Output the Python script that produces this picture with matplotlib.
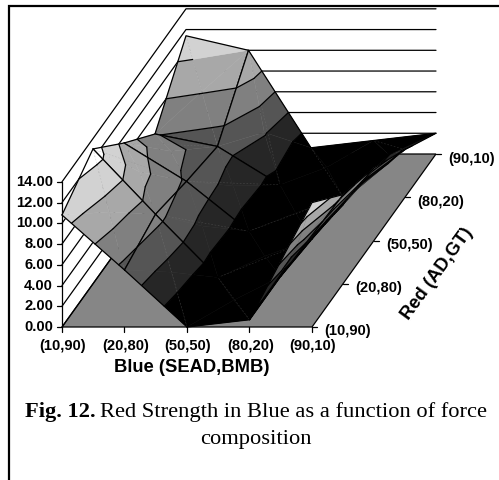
import numpy as np
import matplotlib
matplotlib.use("Agg")
import matplotlib.pyplot as plt
from matplotlib.patches import Polygon

blue_labels = ["(10,90)", "(20,80)", "(50,50)", "(80,20)", "(90,10)"]
red_labels = ["(10,90)", "(20,80)", "(50,50)", "(80,20)", "(90,10)"]
z_ticks = [0, 2, 4, 6, 8, 10, 12, 14]

# rows = red (front to back), columns = blue (left to right)
strength = np.array([
    [10.8, 5.5, 0.0, 0.7, 12.0],
    [13.0, 6.7, 0.6, 0.7, 8.6],
    [9.4, 5.7, 0.9, 0.1, 7.0],
    [6.1, 4.9, 1.2, 0.1, 4.6],
    [11.4, 10.0, 0.6, 1.3, 2.0],
])

band_levels = [0, 2, 4, 6, 8, 10, 12, 14]
band_colors = ["#000000", "#262626", "#555555", "#808080", "#a8a8a8", "#d2d2d2", "#ffffff"]

# oblique projection, in pixels of the picture
X0, Y0 = 62.0, 327.0
DX, SX = 62.5, 31.0
DY, ZS = 43.25, 10.37


def proj(p):
    i, j, z = p
    return (X0 + DX * i + SX * j, Y0 - DY * j - ZS * z)


def clip(poly, level, keep_above):
    out = []
    for a, b in zip(poly, poly[1:] + poly[:1]):
        a_in = a[2] >= level if keep_above else a[2] <= level
        b_in = b[2] >= level if keep_above else b[2] <= level
        if a_in:
            out.append(a)
        if a_in != b_in:
            t = (level - a[2]) / (b[2] - a[2])
            out.append(tuple(np.array(a) + t * (np.array(b) - np.array(a))))
    return out


def contour_seg(tri, level):
    pts = []
    for a, b in zip(tri, tri[1:] + tri[:1]):
        if (a[2] - level) * (b[2] - level) < 0:
            t = (level - a[2]) / (b[2] - a[2])
            pts.append(tuple(np.array(a) + t * (np.array(b) - np.array(a))))
    return pts


fig = plt.figure(figsize=(4.99, 4.80), dpi=100)
ax = fig.add_axes([0, 0, 1, 1])
ax.set_xlim(0, 499)
ax.set_ylim(480, 0)
ax.axis("off")

# frame of the page
ax.plot([9, 9, 499], [480, 5.5, 5.5], color="black", lw=1.6, solid_joinstyle="miter")

n_red, n_blue = strength.shape
back_j = n_red - 1
last_i = n_blue - 1
line = dict(color="black", lw=0.9, solid_capstyle="round")

# walls
for z in z_ticks:
    xs = [proj((0, 0, z))[0], proj((0, back_j, z))[0], proj((last_i, back_j, z))[0]]
    ys = [proj((0, 0, z))[1], proj((0, back_j, z))[1], proj((last_i, back_j, z))[1]]
    if z == 0:
        ax.plot(xs[:2], ys[:2], **line)
    else:
        ax.plot(xs, ys, **line)
ax.plot([X0, X0], [proj((0, 0, 0))[1], proj((0, 0, 14))[1]], **line)

# floor
corners = [(0, 0, 0), (last_i, 0, 0), (last_i, back_j, 0), (0, back_j, 0)]
ax.add_patch(Polygon([proj(c) for c in corners], closed=True, fc="#868686", ec="black", lw=0.9))

# axes ticks and labels
for i, lab in enumerate(blue_labels):
    x, y = proj((i, 0, 0))
    ax.plot([x, x], [y, y + 5], **line)
    ax.text(x + 1, y + 19, lab, ha="center", va="center", fontsize=10.6,
            family="Liberation Sans", weight="bold")
for z in z_ticks:
    x, y = proj((0, 0, z))
    ax.plot([x - 5, x], [y, y], **line)
    ax.text(x - 9, y, "%.2f" % z, ha="right", va="center", fontsize=10.6,
            family="Liberation Sans", weight="bold")
for j, lab in enumerate(red_labels):
    x, y = proj((last_i, j, 0))
    ax.plot([x, x + 5], [y, y], **line)
    ax.text(x + 12, y + 4.5, lab, ha="left", va="center", fontsize=10.6,
            family="Liberation Sans", weight="bold")

ax.text(191.5, 367.5, "Blue (SEAD,BMB)", ha="center", va="center", fontsize=13.2,
        family="Liberation Sans", weight="bold")
ax.text(437, 274, "Red (AD,GT)", ha="center", va="center", rotation=54, fontsize=13.2,
        family="Liberation Sans", weight="bold", rotation_mode="anchor")

# surface, cell by cell from left to right and back to front
zo = 10
for i in range(n_blue - 1):
    for j in range(n_red - 2, -1, -1):
        c = [(i, j, strength[j, i]), (i + 1, j, strength[j, i + 1]),
             (i + 1, j + 1, strength[j + 1, i + 1]), (i, j + 1, strength[j + 1, i])]
        mid = (i + 0.5, j + 0.5, float(np.mean([q[2] for q in c])))
        tris = [[c[k], c[(k + 1) % 4], mid] for k in range(4)]
        zo += 1
        for tri in tris:
            for b, col in enumerate(band_colors):
                part = clip(clip(tri, band_levels[b], True), band_levels[b + 1], False)
                if len(part) > 2:
                    ax.add_patch(Polygon([proj(p) for p in part], closed=True, fc=col, ec=col,
                                         lw=0.3, zorder=zo))
        # faint diagonal of the cell
        diag = (c[0], c[2]) if j in (1, 2) else (c[1], c[3])
        pd = [proj(p) for p in diag]
        ax.plot([pd[0][0], pd[1][0]], [pd[0][1], pd[1][1]], color="#8c8c8c", lw=0.4,
                ls=(0, (3, 3)), alpha=0.35, zorder=zo)
        for tri in tris:
            for lev in band_levels[1:-1]:
                seg = contour_seg(tri, lev)
                if len(seg) == 2:
                    ps = [proj(p) for p in seg]
                    ax.plot([ps[0][0], ps[1][0]], [ps[0][1], ps[1][1]], zorder=zo, **line)
        ps = [proj(p) for p in c + c[:1]]
        ax.plot([p[0] for p in ps], [p[1] for p in ps], zorder=zo, solid_joinstyle="round", **line)

ax.text(25, 416.5, "Fig. 12.", ha="left", va="baseline", fontsize=16.2,
        family="Liberation Serif", weight="bold")
ax.text(100.5, 416.5, "Red Strength in Blue as a function of force", ha="left", va="baseline",
        fontsize=16.2, family="Liberation Serif")
ax.text(256, 444, "composition", ha="center", va="baseline", fontsize=16.2,
        family="Liberation Serif")

fig.savefig("out.png", dpi=100)
